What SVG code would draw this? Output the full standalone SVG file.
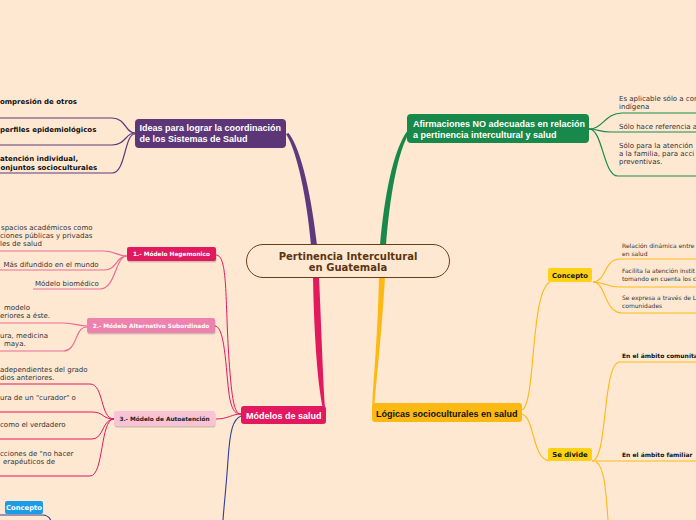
<svg xmlns="http://www.w3.org/2000/svg" width="696" height="520" viewBox="0 0 696 520">
<style>
.main{font-family:"Liberation Sans",Arial,sans-serif;font-weight:bold;font-size:9px}
.sub{font-family:"DejaVu Sans",Verdana,sans-serif;font-weight:bold;font-size:5.8px}
.leaf{font-family:"DejaVu Sans",Verdana,sans-serif;font-size:7px;fill:#333}
.leafb{font-family:"DejaVu Sans",Verdana,sans-serif;font-size:7px;font-weight:bold;fill:#111}
.small{font-family:"DejaVu Sans",Verdana,sans-serif;font-size:6px;fill:#333}
.smallb{font-family:"DejaVu Sans",Verdana,sans-serif;font-size:6px;font-weight:bold;fill:#111}
.tag{font-family:"DejaVu Sans",Verdana,sans-serif;font-size:6.8px;font-weight:bold}
.w{fill:#fff}
.pu{fill:none;stroke:#5E3A7D;stroke-width:1.2}
.gr{fill:none;stroke:#1A8A4A;stroke-width:1.2}
.rd{fill:none;stroke:#E2195F;stroke-width:1}
.pk{fill:none;stroke:#EC6A93;stroke-width:1.2}
.yl{fill:none;stroke:#FDB913;stroke-width:1.1}
.bl{fill:none;stroke:#2E3F94;stroke-width:1.1}
.shadow{fill:#000;opacity:0.18}
</style>
<rect width="696" height="520" fill="#FEE8D2"/>
<g id="connectors">
  <path d="M311,245 C307,200 297.5,152 286,134 L288.5,133 C302,150 312,200 317,245 Z" fill="#5E3A7D"/>
  <path d="M380,245 C384,200 392.5,150 408,130 L410,131.5 C397,152 389.5,200 386,245 Z" fill="#18894A"/>
  <path d="M313,277 C314,330 317,380 322.8,408 L325,407.5 C323,380 321.5,330 319,277 Z" fill="#E2195F"/>
  <path d="M379,277 C378,330 373.5,380 372.3,404 L374.5,404 C376.5,380 382,330 385,277 Z" fill="#FDB913"/>
  <path class="pu" d="M135,133 C125,133 126,118 112,118 H0"/>
  <path class="pu" d="M135,133 C125,133 126,145 112,145 H0"/>
  <path class="pu" d="M135,134 C124,134 126,173 112,173 H0"/>
  <path class="gr" d="M589,129 C603,129 605,113 622,113 H696"/>
  <path class="gr" d="M589,129 C597,129 600,132 610,132 H696"/>
  <path class="gr" d="M589,129 C603,129 603,176 618,176 H696"/>
  <path class="rd" d="M216,255 C228,255 225,300 229,360 C232,400 234,414 241,414"/>
  <path class="rd" d="M215,326 C226,326 226,380 230,400 C233,412 236,414 241,414"/>
  <path class="rd" d="M216,419 C228,419 232,414 241,414"/>
  <path class="bl" d="M241,416 C233,419 230,430 228,460 C226,490 224,505 223,520"/>
  <path class="pk" d="M127,256 C116,256 116,251 104,251 H0"/>
  <path class="pk" d="M127,256 C116,256 117,270 104,270 H0"/>
  <path class="pk" d="M127,256 C115,256 116,289 100,289 H33"/>
  <path class="pk" d="M87,326 C78,326 75,323 63,323 H0"/>
  <path class="pk" d="M87,327 C74,327 78,351 63,351 H0"/>
  <path class="rd" d="M114,419 C100,419 104,384 90,384 H0"/>
  <path class="rd" d="M114,419 C102,419 104,412 92,412 H0"/>
  <path class="rd" d="M114,419 C102,419 104,439 92,439 H0"/>
  <path class="rd" d="M114,419 C100,419 104,476 90,476 H0"/>
  <path class="bl" d="M0,515 H42 C47,515 50,518 51,521"/>
  <path class="yl" d="M522,410 C536,404 530,292 550,282"/>
  <path class="yl" d="M522,414 C535,418 532,460 550,461"/>
  <path class="yl" d="M593,282 C606,282 604,259 620,259 H696"/>
  <path class="yl" d="M593,282 C604,282 606,287 620,287 H696"/>
  <path class="yl" d="M593,282 C606,282 604,313 622,313 H696"/>
  <path class="yl" d="M592,461 C608,461 602,362 620,362 H696"/>
  <path class="yl" d="M592,461 H696"/>
  <path class="yl" d="M596,462 C604,466 606,490 608,520"/>
</g>
<g id="central">
  <rect x="246.5" y="244.5" width="203" height="33" rx="16.5" fill="#FEE8D2" stroke="#6B3E1A" stroke-width="1"/>
  <text x="348" y="259.5" text-anchor="middle" font-family="DejaVu Sans,Verdana,sans-serif" font-weight="bold" font-size="10" fill="#5B3511">Pertinencia Intercultural</text>
  <text x="348" y="270.5" text-anchor="middle" font-family="DejaVu Sans,Verdana,sans-serif" font-weight="bold" font-size="10" fill="#5B3511">en Guatemala</text>
</g>
<g id="ideas">
  <rect x="135" y="119" width="151" height="29" rx="4" fill="#5C3677"/>
  <text class="main w" x="139.5" y="130.5">Ideas para lograr la coordinación</text>
  <text class="main w" x="139.5" y="142">de los Sistemas de Salud</text>
</g>
<g id="ideas-leaves">
  <text class="leafb" x="0" y="103.5">ompresión de otros</text>
  <text class="leafb" x="0" y="131.5">perfiles epidemiológicos</text>
  <text class="leafb" x="0" y="161">atención individual,</text>
  <text class="leafb" x="0.5" y="170">onjuntos socioculturales</text>
</g>
<g id="afirmaciones">
  <rect x="407" y="114" width="182" height="29" rx="4" fill="#18894A"/>
  <text class="main w" x="413" y="127.3">Afirmaciones NO adecuadas en relación</text>
  <text class="main w" x="413" y="138">a pertinencia intercultural y salud</text>
</g>
<g id="afirmaciones-leaves">
  <text class="leaf" x="619" y="100.5">Es aplicable sólo a con</text>
  <text class="leaf" x="619" y="108.5">indígena</text>
  <text class="leaf" x="619" y="128.5">Sólo hace referencia a</text>
  <text class="leaf" x="619" y="147.5">Sólo para la atención</text>
  <text class="leaf" x="619" y="155.5">a la familia, para acci</text>
  <text class="leaf" x="619" y="164">preventivas.</text>
</g>
<g id="modelos">
  <rect x="241" y="406" width="85" height="18" rx="3" fill="#E2195F"/>
  <text class="main w" x="246" y="419">Módelos de salud</text>
</g>
<g id="hegemonico">
  <rect class="shadow" x="127.5" y="248.5" width="89" height="14" rx="2"/>
  <rect x="127" y="247" width="89" height="14" rx="2" fill="#E2195F"/>
  <text class="sub w" x="171.5" y="256.2" text-anchor="middle">1.- Módelo Hegemonico</text>
</g>
<g id="hegemonico-leaves">
  <text class="leaf" x="1" y="229.5">spacios académicos como</text>
  <text class="leaf" x="0" y="238.3">ciones públicas y privadas</text>
  <text class="leaf" x="0" y="246.3">les de salud</text>
  <text class="leaf" x="3.5" y="267.3">Más difundido en el mundo</text>
  <text class="leaf" x="35" y="285.8">Módelo biomédico</text>
</g>
<g id="alternativo">
  <rect class="shadow" x="87.5" y="319.5" width="128" height="15" rx="2"/>
  <rect x="87" y="318" width="128" height="15" rx="2" fill="#EE82AE"/>
  <text class="sub w" x="151" y="327.6" text-anchor="middle">2.- Módelo Alternativo Subordinado</text>
</g>
<g id="alternativo-leaves">
  <text class="leaf" x="4" y="309.5">modelo</text>
  <text class="leaf" x="0" y="317.5">eriores a éste.</text>
  <text class="leaf" x="0" y="337.5">ura, medicina</text>
  <text class="leaf" x="4" y="345.8">maya.</text>
</g>
<g id="autoatencion">
  <rect class="shadow" x="114.5" y="412.5" width="101" height="15" rx="2"/>
  <rect x="114" y="411" width="101" height="15" rx="2" fill="#F8C4D5"/>
  <text class="sub" x="164.5" y="420.6" text-anchor="middle" fill="#222">3.- Módelo de Autoatención</text>
</g>
<g id="autoatencion-leaves">
  <text class="leaf" x="0" y="371.5">adependientes del grado</text>
  <text class="leaf" x="0" y="379.5">dios anteriores.</text>
  <text class="leaf" x="0" y="399.5">ura de un "curador" o</text>
  <text class="leaf" x="0" y="426.5">como el verdadero</text>
  <text class="leaf" x="0" y="455.5">cciones de "no hacer</text>
  <text class="leaf" x="3" y="463.5">erapéuticos de</text>
</g>
<g id="concepto-azul">
  <rect x="5" y="501" width="38" height="13" rx="2" fill="#1D9BE6"/>
  <text class="tag w" x="24" y="510" text-anchor="middle" font-size="6">Concepto</text>
</g>
<g id="logicas">
  <rect x="372" y="403" width="150" height="19" rx="3" fill="#FDB913"/>
  <text class="main" x="376" y="416.5" fill="#111">Lógicas socioculturales en salud</text>
</g>
<g id="concepto">
  <rect x="548" y="268" width="44" height="14" rx="2" fill="#FCD116"/>
  <text class="tag" x="570" y="277.6" text-anchor="middle" fill="#111">Concepto</text>
</g>
<g id="concepto-leaves">
  <text class="small" x="622" y="248">Relación dinámica entre</text>
  <text class="small" x="622" y="256">en salud</text>
  <text class="small" x="622" y="273">Facilita la atención instit</text>
  <text class="small" x="622" y="281">tomando en cuenta los c</text>
  <text class="small" x="622" y="300">Se expresa a través de L</text>
  <text class="small" x="622" y="308">comunidades</text>
</g>
<g id="se-divide">
  <rect x="548" y="448" width="44" height="13" rx="2" fill="#FCD116"/>
  <text class="tag" x="570" y="457" text-anchor="middle" fill="#111">Se divide</text>
</g>
<g id="se-divide-leaves">
  <text class="smallb" x="622" y="358">En el ámbito comunita</text>
  <text class="smallb" x="622" y="456.5">En el ámbito familiar</text>
</g>
</svg>
